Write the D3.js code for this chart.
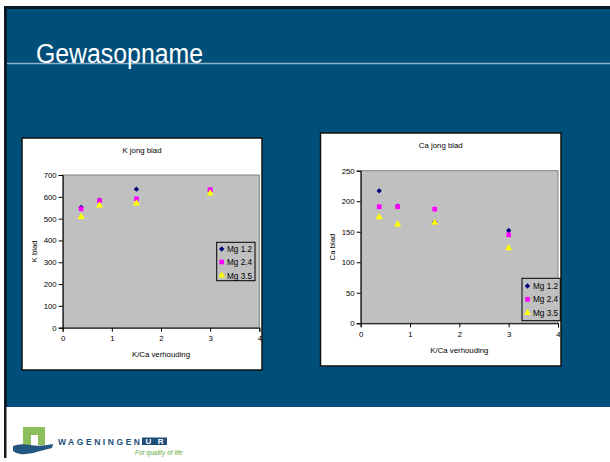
<!DOCTYPE html>
<html><head><meta charset="utf-8">
<script src="https://cdn.jsdelivr.net/npm/d3@7"></script>
<style>body{margin:0;background:#fff}svg{display:block}</style>
</head><body>
<script>
// ---- data ----
const ratio = [0.375, 0.75, 1.5, 3];
const seriesNames = ["Mg 1.2", "Mg 2.4", "Mg 3.5"];
const kMg12 = [552, 585, 635, 630];
const kMg24 = [545, 582, 591, 633];
const kMg35 = [508, 561, 570, 616];
const caMg12 = [217, 192, 166, 152];
const caMg24 = [191, 191, 187, 145];
const caMg35 = [174, 162, 165, 123];
const xTicks = [0, 1, 2, 3, 4];
const kTicks = [0, 100, 200, 300, 400, 500, 600, 700];
const caTicks = [0, 50, 100, 150, 200, 250];

const colors = ["#000080", "#ff00ff", "#ffff00"];
const shapes = [d3.symbolDiamond2 || d3.symbolDiamond, d3.symbolSquare, d3.symbolTriangle];
const sizes = [18, 22, 22];
const FONT = "Liberation Sans, Arial, sans-serif";

const svg = d3.select("body").append("svg").attr("width", 610).attr("height", 462);

// slide background
svg.append("rect").attr("x", 0).attr("y", 0).attr("width", 610).attr("height", 462).attr("fill", "#fff");
svg.append("rect").attr("x", 4).attr("y", 6).attr("width", 606).attr("height", 401).attr("fill", "#0a1a26");
svg.append("rect").attr("x", 7).attr("y", 9).attr("width", 603).attr("height", 398).attr("fill", "#004f7a");
svg.append("rect").attr("x", 4).attr("y", 407).attr("width", 2.5).attr("height", 51).attr("fill", "#1a1a1a");

// title
svg.append("line").attr("x1", 7).attr("x2", 610).attr("y1", 63.5).attr("y2", 63.5)
  .attr("stroke", "#8fb3c7").attr("stroke-width", 1.6);
svg.append("text").attr("x", 36).attr("y", 62.5).text("Gewasopname")
  .attr("font-family", FONT).attr("font-size", 27).attr("fill", "#fff")
  .attr("textLength", 167).attr("lengthAdjust", "spacingAndGlyphs");

function chart(cfg) {
  const g = svg.append("g");
  g.append("rect").attr("x", cfg.box[0]).attr("y", cfg.box[1])
    .attr("width", cfg.box[2] - cfg.box[0]).attr("height", cfg.box[3] - cfg.box[1])
    .attr("fill", "#fff").attr("stroke", "#111").attr("stroke-width", 1.5);
  const x = d3.scaleLinear().domain([0, 4]).range([cfg.plot[0], cfg.plot[2]]);
  const y = d3.scaleLinear().domain([0, cfg.yMax]).range([cfg.plot[3], cfg.plot[1]]);
  g.append("rect").attr("x", cfg.plot[0]).attr("y", cfg.plot[1])
    .attr("width", cfg.plot[2] - cfg.plot[0]).attr("height", cfg.plot[3] - cfg.plot[1])
    .attr("fill", "#c0c0c0").attr("stroke", "#808080").attr("stroke-width", 1);
  const xa = g.append("g").attr("transform", `translate(0,${cfg.plot[3]})`)
    .call(d3.axisBottom(x).tickValues(xTicks).tickFormat(d3.format("d")).tickSizeOuter(0).tickSize(4).tickPadding(4));
  const ya = g.append("g").attr("transform", `translate(${cfg.plot[0]},0)`)
    .call(d3.axisLeft(y).tickValues(cfg.yTicks).tickFormat(d3.format("d")).tickSizeOuter(0).tickSize(4).tickPadding(2));
  [xa, ya].forEach(a => {
    a.selectAll("path,line").attr("stroke", "#000");
    a.selectAll("text").attr("font-family", FONT).attr("font-size", 7.8).attr("fill", "#000");
  });
  g.append("text").attr("x", (cfg.box[0] + cfg.box[2]) / 2).attr("y", cfg.titleY).attr("text-anchor", "middle")
    .attr("font-family", FONT).attr("font-size", 7.8).text(cfg.title);
  g.append("text").attr("x", (cfg.plot[0] + cfg.plot[2]) / 2).attr("y", cfg.xTitleY).attr("text-anchor", "middle")
    .attr("font-family", FONT).attr("font-size", 7.8).text("K/Ca verhouding");
  g.append("text").attr("transform", `translate(${cfg.yTitleX},${(cfg.plot[1] + cfg.plot[3]) / 2}) rotate(-90)`)
    .attr("text-anchor", "middle").attr("font-family", FONT).attr("font-size", 7.8).text(cfg.yTitle);
  cfg.series.forEach((vals, i) => {
    g.selectAll(null).data(vals).enter().append("path")
      .attr("d", d3.symbol().type(shapes[i]).size(sizes[i]))
      .attr("transform", (d, j) => `translate(${x(ratio[j])},${y(d)})`)
      .attr("fill", colors[i]);
  });
  const L = cfg.legend;
  g.append("rect").attr("x", L[0]).attr("y", L[1]).attr("width", L[2] - L[0]).attr("height", L[3] - L[1])
    .attr("fill", "#c0c0c0").attr("stroke", "#000").attr("stroke-width", 1);
  seriesNames.forEach((n, i) => {
    const cy = cfg.legRows[i];
    g.append("path").attr("d", d3.symbol().type(shapes[i]).size(sizes[i]))
      .attr("transform", `translate(${cfg.legMx},${cy})`).attr("fill", colors[i]);
    g.append("text").attr("x", cfg.legTx).attr("y", cy + 3).attr("font-family", FONT)
      .attr("font-size", 8.2).text(n);
  });
}

chart({
  box: [22, 138, 262, 370], plot: [62.7, 175, 259.3, 327.7], yMax: 700, yTicks: kTicks,
  title: "K jong blad", titleY: 152.5, xTitleY: 357, yTitleX: 36.5, yTitle: "K blad",
  series: [kMg12, kMg24, kMg35],
  legend: [216.7, 242.3, 255, 280.7], legRows: [249, 262, 275.5], legMx: 221.7, legTx: 227
});
chart({
  box: [320.5, 133, 561, 366], plot: [360.7, 170.7, 558, 323.3], yMax: 250, yTicks: caTicks,
  title: "Ca jong blad", titleY: 147.5, xTitleY: 353, yTitleX: 334.5, yTitle: "Ca blad",
  series: [caMg12, caMg24, caMg35],
  legend: [522, 278.3, 560.3, 320.7], legRows: [286, 299.3, 313], legMx: 527.5, legTx: 533
});

// logo
const lg = svg.append("g");
lg.append("path").attr("d", "M23,427 H45 V445 H38 V435 H31 V445 H23 Z").attr("fill", "#8dbe5c");
lg.append("path").attr("d", "M13,446 Q20,443 30,445 Q40,447 53,444 L52,448 Q44,450 40,451 Q30,455 20,454 Q15,453 13,451 Z").attr("fill", "#24577f");
lg.append("text").attr("x", 58).attr("y", 444.5).text("WAGENINGEN")
  .attr("font-family", FONT).attr("font-weight", "bold").attr("font-size", 8.5).attr("fill", "#1f4e79")
  .attr("textLength", 82).attr("lengthAdjust", "spacing");
lg.append("rect").attr("x", 142).attr("y", 437.5).attr("width", 25).attr("height", 7.5).attr("fill", "#1f4e79");
lg.append("text").attr("x", 154.5).attr("y", 444.2).attr("text-anchor", "middle").text("UR")
  .attr("font-family", FONT).attr("font-weight", "bold").attr("font-size", 8).attr("fill", "#fff")
  .attr("textLength", 18).attr("lengthAdjust", "spacing");
lg.append("text").attr("x", 135).attr("y", 455).text("For quality of life")
  .attr("font-family", FONT).attr("font-style", "italic").attr("font-size", 6.5).attr("fill", "#6aab3c");
</script>
</body></html>
